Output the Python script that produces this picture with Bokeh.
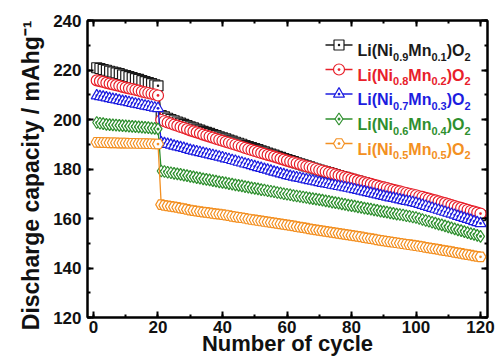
import math
from bokeh.plotting import figure
from bokeh.models import Range1d, LinearAxis, SingleIntervalTicker, Label
from bokeh.embed import file_html
from bokeh.resources import INLINE

# ---------------- data ----------------
cycles = list(range(1, 121))

ni90 = [220.9, 220.6, 220.2, 219.9, 219.5, 219.2, 218.8, 218.5, 218.0, 217.7,
        217.3, 216.9, 216.5, 216.2, 215.7, 215.3, 214.9, 214.5, 214.0, 213.6,
        201.6, 201.1, 200.5, 200.0, 199.5, 199.0, 198.5, 198.0, 197.5, 197.0,
        196.6, 196.1, 195.7, 195.2, 194.8, 194.4, 193.9, 193.5, 193.0, 192.6,
        192.2, 191.7, 191.3, 190.8, 190.4, 190.0, 189.5, 189.1, 188.6, 188.2,
        187.8, 187.3, 186.9, 186.4, 186.0, 185.6, 185.1, 184.7, 184.2, 183.8,
        183.4, 183.0, 182.5, 182.1, 181.7, 181.3, 180.9, 180.4, 180.0, 179.6,
        179.2, 178.8, 178.5, 178.1, 177.7, 177.3, 176.9, 176.6, 176.2, 175.8,
        175.4, 175.1, 174.7, 174.4, 174.0, 173.6, 173.3, 172.9, 172.6, 172.2,
        171.9, 171.5, 171.2, 170.8, 170.5, 170.2, 169.8, 169.5, 169.1, 168.8,
        168.4, 168.1, 167.7, 167.4, 167.0, 166.6, 166.3, 165.9, 165.6, 165.2,
        164.8, 164.4, 164.0, 163.6, 163.2, 162.8, 162.4, 162.0, 161.6, 161.2]

ni80 = [215.8, 215.5, 215.2, 214.8, 214.5, 214.2, 213.9, 213.6, 213.2, 212.9,
        212.6, 212.3, 212.0, 211.7, 211.3, 211.0, 210.7, 210.4, 210.1, 209.7,
        199.8, 199.3, 198.8, 198.4, 197.9, 197.5, 197.0, 196.6, 196.1, 195.6,
        195.2, 194.8, 194.4, 193.9, 193.5, 193.1, 192.7, 192.2, 191.8, 191.4,
        191.0, 190.6, 190.2, 189.8, 189.4, 189.0, 188.5, 188.1, 187.7, 187.3,
        186.9, 186.5, 186.1, 185.7, 185.4, 185.0, 184.6, 184.2, 183.8, 183.4,
        183.0, 182.7, 182.3, 181.9, 181.5, 181.1, 180.8, 180.4, 180.0, 179.6,
        179.3, 178.9, 178.5, 178.2, 177.8, 177.4, 177.1, 176.7, 176.4, 176.0,
        175.7, 175.3, 175.0, 174.6, 174.3, 174.0, 173.6, 173.3, 172.9, 172.6,
        172.3, 171.9, 171.6, 171.3, 171.0, 170.6, 170.3, 170.0, 169.7, 169.4,
        169.0, 168.7, 168.3, 168.0, 167.6, 167.3, 166.9, 166.5, 166.2, 165.8,
        165.4, 165.0, 164.6, 164.3, 163.9, 163.5, 163.1, 162.8, 162.4, 162.0]

ni70 = [209.6, 209.3, 209.1, 208.8, 208.5, 208.2, 208.0, 207.7, 207.4, 207.2,
        206.9, 206.6, 206.3, 206.1, 205.8, 205.5, 205.3, 205.0, 204.7, 204.5,
        190.6, 190.3, 190.0, 189.7, 189.3, 189.0, 188.7, 188.4, 188.0, 187.6,
        187.3, 187.0, 186.7, 186.4, 186.1, 185.8, 185.5, 185.2, 184.9, 184.6,
        184.2, 183.9, 183.5, 183.2, 182.8, 182.5, 182.1, 181.8, 181.4, 181.0,
        180.6, 180.3, 179.9, 179.6, 179.2, 178.8, 178.5, 178.1, 177.8, 177.4,
        177.1, 176.8, 176.5, 176.3, 176.0, 175.7, 175.4, 175.2, 174.9, 174.6,
        174.3, 174.1, 173.8, 173.5, 173.3, 173.0, 172.8, 172.5, 172.3, 172.0,
        171.7, 171.4, 171.1, 170.8, 170.5, 170.2, 169.9, 169.6, 169.3, 169.0,
        168.7, 168.4, 168.2, 167.9, 167.6, 167.3, 167.0, 166.8, 166.5, 166.2,
        165.8, 165.4, 165.0, 164.6, 164.2, 163.8, 163.4, 163.0, 162.6, 162.2,
        161.8, 161.4, 160.9, 160.5, 160.1, 159.7, 159.3, 158.8, 158.4, 158.0]

ni60 = [198.8, 198.5, 198.3, 198.0, 197.9, 197.8, 197.7, 197.6, 197.5, 197.4,
        197.3, 197.2, 197.1, 197.0, 196.9, 196.8, 196.7, 196.5, 196.4, 196.2,
        179.2, 179.0, 178.7, 178.5, 178.2, 178.0, 177.8, 177.5, 177.3, 177.0,
        176.8, 176.5, 176.3, 176.0, 175.8, 175.6, 175.3, 175.1, 174.8, 174.6,
        174.4, 174.1, 173.9, 173.6, 173.4, 173.2, 172.9, 172.7, 172.4, 172.2,
        172.0, 171.7, 171.5, 171.2, 171.0, 170.8, 170.5, 170.3, 170.0, 169.8,
        169.6, 169.3, 169.1, 168.9, 168.7, 168.5, 168.2, 168.0, 167.8, 167.6,
        167.4, 167.1, 166.9, 166.6, 166.4, 166.2, 165.9, 165.7, 165.4, 165.2,
        165.0, 164.7, 164.5, 164.2, 164.0, 163.8, 163.5, 163.3, 163.0, 162.8,
        162.6, 162.3, 162.1, 161.8, 161.6, 161.4, 161.1, 160.9, 160.6, 160.4,
        160.0, 159.6, 159.2, 158.9, 158.5, 158.1, 157.7, 157.4, 157.0, 156.6,
        156.2, 155.8, 155.4, 155.1, 154.7, 154.3, 153.9, 153.6, 153.2, 152.8]

ni50 = [190.8, 190.8, 190.7, 190.7, 190.6, 190.6, 190.6, 190.5, 190.5, 190.5,
        190.4, 190.4, 190.4, 190.3, 190.3, 190.3, 190.2, 190.2, 190.1, 190.1,
        165.6, 165.3, 165.1, 164.9, 164.7, 164.5, 164.2, 164.0, 163.7, 163.4,
        163.2, 163.0, 162.8, 162.6, 162.5, 162.3, 162.1, 161.9, 161.8, 161.6,
        161.4, 161.2, 160.9, 160.7, 160.5, 160.3, 160.1, 159.8, 159.6, 159.4,
        159.2, 159.0, 158.8, 158.6, 158.4, 158.2, 158.0, 157.8, 157.6, 157.4,
        157.2, 157.0, 156.7, 156.5, 156.3, 156.1, 155.8, 155.6, 155.4, 155.2,
        155.0, 154.8, 154.6, 154.4, 154.2, 154.0, 153.8, 153.6, 153.4, 153.2,
        153.0, 152.8, 152.6, 152.3, 152.1, 151.9, 151.7, 151.4, 151.2, 151.0,
        150.8, 150.6, 150.4, 150.2, 150.0, 149.8, 149.6, 149.4, 149.2, 149.0,
        148.8, 148.6, 148.3, 148.1, 147.9, 147.7, 147.5, 147.2, 147.0, 146.8,
        146.6, 146.3, 146.1, 145.9, 145.6, 145.4, 145.2, 144.9, 144.7, 144.5]

ni_sub = ["0.9", "0.8", "0.7", "0.6", "0.5"]
mn_sub = ["0.1", "0.2", "0.3", "0.4", "0.5"]
series = [ni90, ni80, ni70, ni60, ni50]

colors = ["#1a1a1a", "#e8202a", "#1c1ce0", "#2e8f2e", "#f39022"]
markers = ["square_dot", "circle_dot", "triangle_dot", "diamond_dot", "hex_dot"]
msizes = [10, 11, 11, 12, 11]

x_title = "Number of cycle"
y_title = "Discharge capacity / mAhg\u207b\u00b9\u00a0\u00a0"

# ---------------- layout ----------------
W, H = 495, 358
FL, FR, FT, FB = 87, 487, 20, 317          # frame edges in canvas px
X0, X1 = -1.86, 122.17
Y0, Y1 = 120, 240
FONT = "Liberation Sans"


def dx(cx):
    return X0 + (cx - FL) / (FR - FL) * (X1 - X0)


def dy(cy):
    return Y1 - (cy - FT) / (FB - FT) * (Y1 - Y0)


p = figure(width=W, height=H, output_backend="svg", toolbar_location=None,
           x_range=Range1d(X0, X1), y_range=Range1d(Y0, Y1),
           min_border_left=FL, min_border_right=W - FR,
           min_border_top=FT, min_border_bottom=H - FB)
p.grid.visible = False
p.background_fill_color = "white"
p.border_fill_color = "white"
p.outline_line_color = "black"
p.outline_line_width = 2


def style_axis(ax, show_labels):
    ax.ticker = SingleIntervalTicker(interval=20, num_minor_ticks=2)
    ax.axis_line_width = 2
    ax.axis_line_color = "black"
    ax.major_tick_in = 6
    ax.major_tick_out = 0
    ax.minor_tick_in = 3
    ax.minor_tick_out = 0
    ax.major_tick_line_width = 2
    ax.minor_tick_line_width = 2
    ax.major_tick_line_color = "black"
    ax.minor_tick_line_color = "black"
    ax.major_label_text_font = FONT
    ax.major_label_text_font_style = "bold"
    if show_labels:
        ax.major_label_text_color = "#111111"
        ax.major_label_text_font_size = "17px"
        ax.major_label_standoff = 5
        ax.axis_label_text_font = FONT
        ax.axis_label_text_font_style = "bold"
        ax.axis_label_text_color = "#111111"
        ax.axis_label_text_font_size = "22px"
    else:
        ax.major_label_text_color = None
        ax.major_label_text_font_size = "1px"
        ax.major_label_standoff = 0


style_axis(p.xaxis[0], True)
style_axis(p.yaxis[0], True)
p.xaxis[0].axis_label = x_title
p.xaxis[0].axis_label_standoff = -5
p.xaxis[0].major_label_standoff = 3
p.yaxis[0].axis_label = y_title
p.yaxis[0].axis_label_text_font_size = "23px"
p.yaxis[0].axis_label_standoff = 6
p.yaxis[0].major_label_standoff = 6

top_ax = LinearAxis()
right_ax = LinearAxis()
style_axis(top_ax, False)
style_axis(right_ax, False)
p.add_layout(top_ax, "above")
p.add_layout(right_ax, "right")

# ---------------- series ----------------
for vals, col, mk, ms in zip(series, colors, markers, msizes):
    p.line(cycles, vals, line_color=col, line_width=1.3)
    p.scatter(cycles, vals, marker=mk, size=ms, line_color=col,
              fill_color="white", line_width=1.2)

# ---------------- legend (drawn by hand for subscripts/colours) ----------------
AW = {'L': 611, 'i': 278, '(': 333, 'N': 722, 'M': 833, 'n': 611, ')': 333,
      'O': 778, '.': 278}
for d in "0123456789":
    AW[d] = 556


def tw(s, size):
    return sum(AW[c] for c in s) / 1000.0 * size


MAIN, SUB = 16, 11
row_base = [50, 74.5, 99, 124, 148.5]      # canvas-y baselines of legend rows
for i in range(5):
    col = colors[i]
    by = row_base[i]
    cy = by - 5.5
    p.line([dx(325), dx(352)], [dy(cy), dy(cy)], line_color=col, line_width=1.3)
    p.scatter([dx(338.5)], [dy(cy)], marker=markers[i], size=msizes[i],
              line_color=col, fill_color="white", line_width=1.2)
    segs = [("Li(Ni", MAIN, 0), (ni_sub[i], SUB, 6), ("Mn", MAIN, 0),
            (mn_sub[i], SUB, 6), (")O", MAIN, 0), ("2", SUB, 6)]
    xpos = 357.0
    for txt, size, drop in segs:
        p.add_layout(Label(x=dx(xpos), y=dy(by + drop), text=txt,
                           text_font=FONT, text_font_style="bold",
                           text_font_size=f"{size}px", text_color=col,
                           text_align="left", text_baseline="alphabetic"))
        xpos += tw(txt, size)

open("out.html", "w").write(file_html(p, INLINE))
